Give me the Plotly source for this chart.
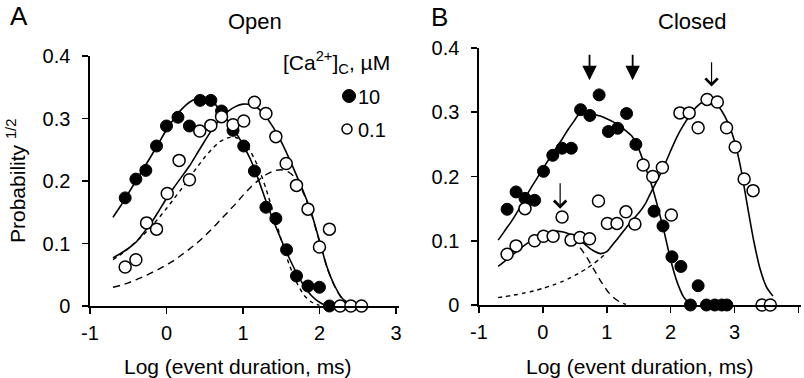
import plotly.graph_objects as go

# ---------------- Panel A: Open ----------------
a_x_10 = [-0.54, -0.40, -0.27, -0.13, 0.00, 0.15, 0.30, 0.44, 0.58, 0.72,
          0.87, 1.01, 1.15, 1.30, 1.43, 1.57, 1.70, 1.85, 2.00, 2.13]
a_y_10 = [0.173, 0.203, 0.217, 0.256, 0.288, 0.302, 0.288, 0.329, 0.329, 0.312,
          0.281, 0.256, 0.216, 0.158, 0.140, 0.090, 0.048, 0.032, 0.030, 0.0]

a_x_01 = [-0.54, -0.40, -0.26, -0.13, 0.01, 0.165, 0.30, 0.435, 0.58, 0.72,
          0.87, 1.01, 1.15, 1.30, 1.43, 1.565, 1.70, 1.85, 2.00, 2.13,
          2.27, 2.41, 2.55]
a_y_01 = [0.0625, 0.074, 0.133, 0.123, 0.180, 0.233, 0.202, 0.280, 0.289, 0.303,
          0.290, 0.296, 0.326, 0.308, 0.271, 0.228, 0.193, 0.155, 0.0945, 0.123,
          0.0, 0.0, 0.0]

a_fit10_x = [-0.7, -0.6, -0.5, -0.4, -0.3, -0.2, -0.1, 0.0, 0.1, 0.2, 0.3, 0.4, 0.5, 0.6, 0.7,
             0.8, 0.9, 1.0, 1.1, 1.2, 1.3, 1.4, 1.5, 1.6, 1.7, 1.8, 1.9, 2.0, 2.1]
a_fit10_y = [0.142, 0.160, 0.180, 0.200, 0.220, 0.240, 0.261, 0.282, 0.300, 0.315, 0.326, 0.332,
             0.334, 0.328, 0.313, 0.297, 0.279, 0.258, 0.234, 0.203, 0.168, 0.136, 0.106,
             0.078, 0.053, 0.032, 0.016, 0.006, 0.000]

a_fit01_x = [-0.7, -0.6, -0.5, -0.4, -0.3, -0.2, -0.1, 0.0, 0.1, 0.2, 0.3, 0.4, 0.5, 0.6, 0.7,
             0.8, 0.9, 1.0, 1.1, 1.2, 1.3, 1.4, 1.5, 1.6, 1.7, 1.8, 1.9, 2.0, 2.1, 2.2, 2.3, 2.4]
a_fit01_y = [0.077, 0.084, 0.092, 0.102, 0.117, 0.133, 0.152, 0.172, 0.190, 0.207, 0.224, 0.244,
             0.264, 0.283, 0.299, 0.311, 0.319, 0.323, 0.322, 0.316, 0.303, 0.285, 0.263, 0.237,
             0.209, 0.180, 0.147, 0.104, 0.062, 0.032, 0.012, 0.003]

a_comp1_x = [-0.7, -0.6, -0.5, -0.4, -0.3, -0.2, -0.1, 0.0, 0.1, 0.2, 0.3, 0.4, 0.5, 0.6, 0.7,
             0.8, 0.9, 1.0, 1.1, 1.2, 1.3, 1.4, 1.5, 1.6, 1.7, 1.8, 1.9, 2.0]
a_comp1_y = [0.074, 0.082, 0.092, 0.103, 0.114, 0.127, 0.141, 0.156, 0.172, 0.188, 0.205, 0.222,
             0.238, 0.252, 0.263, 0.269, 0.270, 0.263, 0.247, 0.222, 0.188, 0.148, 0.106, 0.068,
             0.038, 0.017, 0.006, 0.001]

a_comp2_x = [-0.7, -0.6, -0.5, -0.4, -0.3, -0.2, -0.1, 0.0, 0.1, 0.2, 0.3, 0.4, 0.5, 0.6, 0.7,
             0.8, 0.9, 1.0, 1.1, 1.2, 1.3, 1.4, 1.5, 1.6, 1.7, 1.8, 1.9, 2.0, 2.1, 2.2, 2.3, 2.4]
a_comp2_y = [0.030, 0.033, 0.037, 0.042, 0.047, 0.053, 0.059, 0.066, 0.073, 0.082, 0.091, 0.101,
             0.112, 0.124, 0.137, 0.150, 0.163, 0.177, 0.190, 0.201, 0.210, 0.216, 0.218, 0.214,
             0.203, 0.178, 0.145, 0.103, 0.061, 0.031, 0.011, 0.002]

# ---------------- Panel B: Closed ----------------
b_x_10 = [-0.56, -0.42, -0.28, -0.13, 0.01, 0.155, 0.30, 0.445, 0.59, 0.735, 0.88, 1.025,
          1.17, 1.31, 1.455, 1.74, 1.88, 2.02, 2.16, 2.31, 2.43, 2.56, 2.69, 2.80, 2.88]
b_y_10 = [0.149, 0.176, 0.166, 0.163, 0.208, 0.233, 0.244, 0.244, 0.304, 0.295, 0.327, 0.270,
          0.275, 0.298, 0.250, 0.146, 0.123, 0.075, 0.060, 0.0, 0.030, 0.0, 0.0, 0.0, 0.0]

b_x_01 = [-0.56, -0.42, -0.28, -0.13, 0.01, 0.16, 0.30, 0.44, 0.58, 0.73, 0.87, 1.01, 1.16,
          1.30, 1.44, 1.57, 1.72, 1.87, 2.01, 2.145, 2.29, 2.43, 2.57, 2.73, 2.875, 3.01,
          3.15, 3.29, 3.43, 3.56]
b_y_01 = [0.079, 0.092, 0.150, 0.100, 0.107, 0.107, 0.137, 0.101, 0.105, 0.103, 0.162, 0.127,
          0.127, 0.145, 0.126, 0.218, 0.200, 0.214, 0.140, 0.299, 0.299, 0.276, 0.320, 0.316,
          0.276, 0.246, 0.196, 0.178, 0.0, 0.0]

b_fit10_x = [-0.7, -0.6, -0.5, -0.4, -0.3, -0.2, -0.1, 0.0, 0.1, 0.2, 0.3, 0.4, 0.5, 0.6, 0.7,
             0.8, 0.9, 1.0, 1.1, 1.2, 1.3, 1.4, 1.5, 1.6, 1.7, 1.8, 1.9, 2.0, 2.1, 2.2, 2.3]
b_fit10_y = [0.101, 0.115, 0.129, 0.145, 0.163, 0.180, 0.196, 0.212, 0.228, 0.243, 0.258, 0.274,
             0.288, 0.302, 0.300, 0.297, 0.294, 0.290, 0.285, 0.279, 0.271, 0.262, 0.243, 0.216,
             0.187, 0.152, 0.113, 0.070, 0.036, 0.013, 0.001]

b_fit01_x = [-0.7, -0.6, -0.5, -0.4, -0.3, -0.2, -0.1, 0.0, 0.1, 0.2, 0.3, 0.4, 0.5, 0.6, 0.7,
             0.8, 0.9, 1.0, 1.1, 1.2, 1.3, 1.4, 1.5, 1.6, 1.7, 1.8, 1.9, 2.0, 2.1, 2.2, 2.3, 2.4,
             2.5, 2.6, 2.7, 2.8, 2.9, 3.0, 3.1, 3.2, 3.3, 3.4, 3.5, 3.6]
b_fit01_y = [0.060, 0.068, 0.076, 0.084, 0.092, 0.099, 0.105, 0.110, 0.113, 0.115, 0.114, 0.111,
             0.106, 0.099, 0.091, 0.084, 0.080, 0.083, 0.095, 0.107, 0.120, 0.132, 0.143, 0.157,
             0.177, 0.196, 0.217, 0.240, 0.262, 0.280, 0.295, 0.308, 0.316, 0.319, 0.315, 0.302,
             0.283, 0.255, 0.212, 0.155, 0.100, 0.056, 0.028, 0.014]

b_comp1_x = [-0.7, -0.6, -0.5, -0.4, -0.3, -0.2, -0.1, 0.0, 0.1, 0.2, 0.3, 0.4, 0.5, 0.6, 0.7,
             0.8, 0.9, 1.0]
b_comp1_y = [0.0115, 0.013, 0.0146, 0.0164, 0.0184, 0.0206, 0.0231, 0.0259, 0.029, 0.0326,
             0.0365, 0.041, 0.046, 0.0515, 0.0578, 0.0648, 0.0727, 0.0815]

b_comp2_x = [0.45, 0.5, 0.6, 0.7, 0.8, 0.9, 1.0, 1.1, 1.2, 1.3]
b_comp2_y = [0.103, 0.098, 0.087, 0.072, 0.055, 0.038, 0.023, 0.012, 0.005, 0.001]

# arrows in panel B: (x, tail y, tip y)
b_arrows_filled = [(0.73, 0.392, 0.350), (1.405, 0.392, 0.350)]
b_arrows_open = [(2.64, 0.380, 0.340), (0.27, 0.192, 0.150)]

# legend entries
legend_labels = ["10", "0.1"]
legend_title = "[Ca<sup>2+</sup>]<sub>C</sub>, µM"

tick_x_a = [-1, 0, 1, 2, 3]
tick_x_a_text = ["-1", "0", "1", "2", "3"]
tick_x_b = [-1, 0, 1, 2, 3, 4]
tick_x_b_text = ["-1", "0", "1", "2", "3", "4"]
tick_y = [0, 0.1, 0.2, 0.3, 0.4]
tick_y_text = ["0", "0.1", "0.2", "0.3", "0.4"]

FONT = "Liberation Sans, Arial, Helvetica, sans-serif"
W, H = 804, 378

fig = go.Figure()

def line(x, y, xa, ya, dash="solid", width=1.6):
    fig.add_trace(go.Scatter(x=x, y=y, xaxis=xa, yaxis=ya, mode="lines",
                             line=dict(color="black", width=width, dash=dash, shape="spline", smoothing=0.6),
                             showlegend=False, hoverinfo="skip"))

line(a_comp2_x, a_comp2_y, "x", "y", dash="7px,5px", width=1.4)
line(a_comp1_x, a_comp1_y, "x", "y", dash="4px,4px", width=1.4)
line(a_fit10_x, a_fit10_y, "x", "y")
line(a_fit01_x, a_fit01_y, "x", "y")
line(b_comp1_x, b_comp1_y, "x2", "y2", dash="4px,4px", width=1.4)
line(b_comp2_x, b_comp2_y, "x2", "y2", dash="7px,5px", width=1.4)
line(b_fit10_x, b_fit10_y, "x2", "y2")
line(b_fit01_x, b_fit01_y, "x2", "y2")

filled = dict(symbol="circle", size=12, color="black", line=dict(color="black", width=1))
hollow = dict(symbol="circle", size=12, color="white", line=dict(color="black", width=1.5))

fig.add_trace(go.Scatter(x=a_x_10, y=a_y_10, xaxis="x", yaxis="y", mode="markers", marker=filled,
                         name=legend_labels[0], showlegend=False, cliponaxis=False))
fig.add_trace(go.Scatter(x=a_x_01, y=a_y_01, xaxis="x", yaxis="y", mode="markers", marker=hollow,
                         name=legend_labels[1], showlegend=False, cliponaxis=False))
fig.add_trace(go.Scatter(x=b_x_10, y=b_y_10, xaxis="x2", yaxis="y2", mode="markers", marker=filled,
                         name=legend_labels[0], showlegend=False, cliponaxis=False))
fig.add_trace(go.Scatter(x=b_x_01, y=b_y_01, xaxis="x2", yaxis="y2", mode="markers", marker=hollow,
                         name=legend_labels[1], showlegend=False, cliponaxis=False))

def px(v):
    return v / W

def py(v):
    return 1 - v / H

axis_common = dict(showline=True, linecolor="black", linewidth=1.6, ticks="outside", ticklen=6,
                   tickwidth=1.6, tickcolor="black", showgrid=False, zeroline=False,
                   automargin=False,
                   tickfont=dict(family=FONT, size=20, color="black"))

fig.update_layout(
    template="none",
    width=W, height=H, margin=dict(l=0, r=0, t=0, b=0, pad=0, autoexpand=False),
    paper_bgcolor="white", plot_bgcolor="white",
    font=dict(family=FONT, color="black"),
    showlegend=False,
    xaxis=dict(domain=[px(90), px(399)], range=[-1, 3.04], tickvals=tick_x_a, ticktext=tick_x_a_text,
               anchor="y", ticklabelstandoff=2, **axis_common),
    yaxis=dict(domain=[py(306), py(56)], range=[0, 0.4], tickvals=tick_y, ticktext=tick_y_text,
               anchor="x", ticklabelstandoff=8, **axis_common),
    xaxis2=dict(domain=[px(479), px(801)], range=[-1, 4.04], tickvals=tick_x_b, ticktext=tick_x_b_text,
                anchor="y2", ticklabelstandoff=2, **axis_common),
    yaxis2=dict(domain=[py(305), py(48)], range=[0, 0.4], tickvals=tick_y, ticktext=tick_y_text,
                anchor="x2", ticklabelstandoff=8, **axis_common),
)

ann = []
def text(t, x, y, size, xanchor="center", yanchor="middle", angle=0):
    ann.append(dict(text=t, x=px(x), y=py(y), xref="paper", yref="paper", showarrow=False,
                    xanchor=xanchor, yanchor=yanchor, textangle=angle,
                    font=dict(family=FONT, size=size, color="black")))

text("A", 19, 16, 26)
text("B", 439, 17, 26)
text("Open", 255, 22, 22)
text("Closed", 692, 21, 22)
text("Log (event duration, ms)", 238, 366, 21)
text("Log (event duration, ms)", 640, 366, 21)
text("Probability <sup>1/2</sup>", 16, 181, 21, angle=-90)
text(legend_title, 281, 63, 21, xanchor="left")
text(legend_labels[0], 356, 97, 20, xanchor="left")
text(legend_labels[1], 356, 130, 20, xanchor="left")

shapes = []
for (cx, cy, r, fill, lw) in [(349, 96, 6.5, "black", 1), (347, 129, 5, "white", 1.5)]:
    shapes.append(dict(type="circle", xref="paper", yref="paper", xsizemode="pixel", ysizemode="pixel",
                       xanchor=px(cx), yanchor=py(cy), x0=-r, x1=r, y0=-r, y1=r,
                       fillcolor=fill, line=dict(color="black", width=lw)))

for (x, y0, y1) in b_arrows_filled:
    ann.append(dict(x=x, y=y1, ax=x, ay=y0, xref="x2", yref="y2", axref="x2", ayref="y2",
                    text="", showarrow=True, arrowhead=2, arrowsize=1.6, arrowwidth=1.8,
                    arrowcolor="black", standoff=0))
for (x, y0, y1) in b_arrows_open:
    ann.append(dict(x=x, y=y1, ax=x, ay=y0, xref="x2", yref="y2", axref="x2", ayref="y2",
                    text="", showarrow=True, arrowhead=4, arrowsize=2.0, arrowwidth=1.2,
                    arrowcolor="black", standoff=0))

fig.update_layout(annotations=ann, shapes=shapes)
fig.write_html("out.html",
               config={"displayModeBar": False, "staticPlot": True},
               post_script="document.body.style.margin='0';document.body.style.padding='0';"
                           "document.body.style.overflow='hidden';")
